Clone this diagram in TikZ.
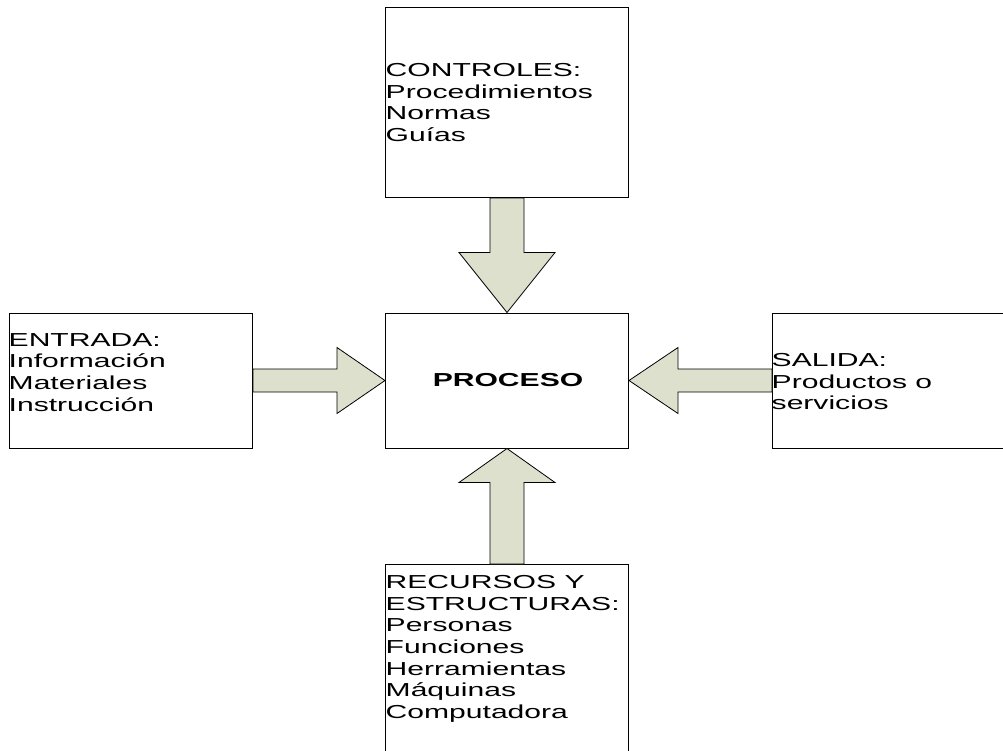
\documentclass[tikz,border=0pt]{standalone}
\usepackage{fontspec}
\setmainfont{Liberation Sans}[FakeStretch=1.6]
\usetikzlibrary{calc}
\definecolor{arrowfill}{RGB}{221,224,204}
\begin{document}
\begin{tikzpicture}[x=1pt,y=-1pt,
  box/.style={draw=black, line width=1pt, rectangle, inner sep=0pt,
    anchor=north west, minimum width=243pt},
  boxtext/.style={anchor=north west, inner sep=0pt, align=left,
    font=\fontsize{18.8}{21.7}\selectfont},
  blockarrow/.style={draw=black, line width=0.8pt, fill=arrowfill, line join=miter}]
\clip (0,0) rectangle (1003,750);

% boxes
\node[box, minimum height=190pt] (ctrl) at (385,7) {};
\node[box, minimum height=135pt] (proc) at (385,312.5) {};
\node[box, minimum height=135pt] (entr) at (9,312.5) {};
\node[box, minimum height=135pt] (sal)  at (772,312.5) {};
\node[box, minimum height=190pt] (rec)  at (385,564) {};

% box texts
\node[boxtext] (ctrl-t) at (385.5,63) {CONTROLES:\\Procedimientos\\Normas\\Guías};
\node[boxtext] (entr-t) at (8.5,333) {ENTRADA:\\Información\\Materiales\\Instrucción};
\node[boxtext] (sal-t) at (771.5,353) {SALIDA:\\Productos o\\servicios};
\node[boxtext] (rec-t) at (385.5,575) {RECURSOS Y\\ESTRUCTURAS:\\Personas\\Funciones\\Herramientas\\Máquinas\\Computadora};
\node[inner sep=0pt, font=\fontsize{18.8}{21.7}\selectfont\bfseries] (proc-t) at ([xshift=1pt]proc.center) {PROCESO};

% block arrows into the process
\draw[blockarrow] (proc.north)
  -- ($(proc.north)+(-48,-60)$) -- ($(proc.north)+(-17,-60)$)
  -- ([xshift=-17pt]ctrl.south) -- ([xshift=17pt]ctrl.south)
  -- ($(proc.north)+(17,-60)$) -- ($(proc.north)+(48,-60)$) -- cycle;
\draw[blockarrow] (proc.south)
  -- ($(proc.south)+(-48,34)$) -- ($(proc.south)+(-17,34)$)
  -- ([xshift=-17pt]rec.north) -- ([xshift=17pt]rec.north)
  -- ($(proc.south)+(17,34)$) -- ($(proc.south)+(48,34)$) -- cycle;
\draw[blockarrow] (proc.west)
  -- ($(proc.west)+(-48,-33)$) -- ($(proc.west)+(-48,-11.5)$)
  -- ([yshift=11.5pt]entr.east) -- ([yshift=-11.5pt]entr.east)
  -- ($(proc.west)+(-48,11.5)$) -- ($(proc.west)+(-48,33)$) -- cycle;
\draw[blockarrow] (proc.east)
  -- ($(proc.east)+(49,-33)$) -- ($(proc.east)+(49,-11.5)$)
  -- ([yshift=11.5pt]sal.west) -- ([yshift=-11.5pt]sal.west)
  -- ($(proc.east)+(49,11.5)$) -- ($(proc.east)+(49,33)$) -- cycle;
\end{tikzpicture}
\end{document}
